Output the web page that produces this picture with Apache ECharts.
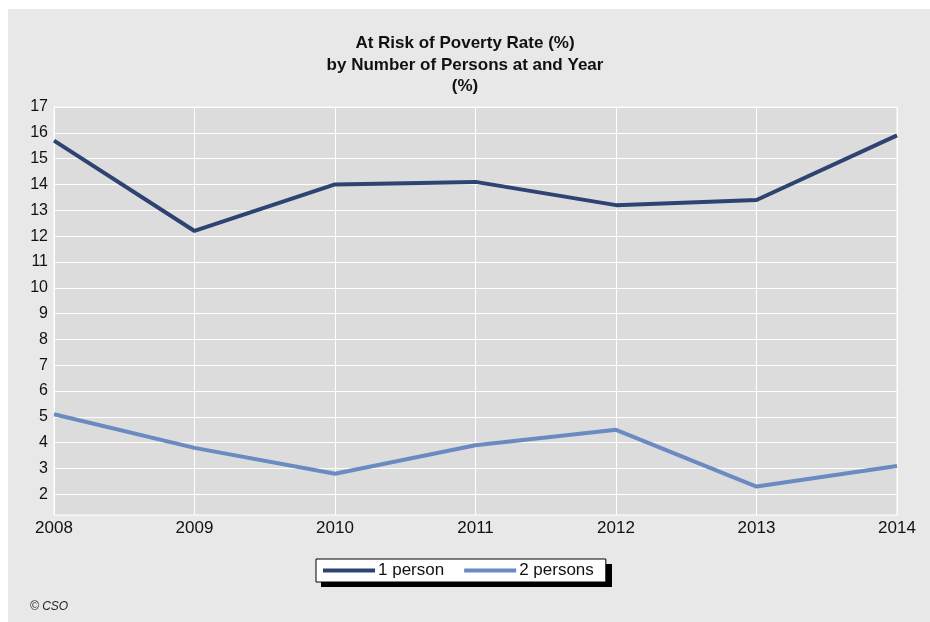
<!DOCTYPE html>
<html>
<head>
<meta charset="utf-8">
<title>At Risk of Poverty Rate</title>
<script src="https://cdn.jsdelivr.net/npm/echarts@6/dist/echarts.min.js"></script>
<style>
    html, body { margin: 0; padding: 0; background: #fff; }
    #chart { width: 930px; height: 622px; }
</style>
</head>
<body>
<div id="chart"></div>
<script>
    // data
    var years = ['2008', '2009', '2010', '2011', '2012', '2013', '2014'];
    var onePerson = [15.7, 12.2, 14.0, 14.1, 13.2, 13.4, 15.9];
    var twoPersons = [5.1, 3.8, 2.8, 3.9, 4.5, 2.3, 3.1];
    var yTicks = [2, 3, 4, 5, 6, 7, 8, 9, 10, 11, 12, 13, 14, 15, 16, 17];

    var font = 'Liberation Sans, Arial, sans-serif';
    var chart = echarts.init(document.getElementById('chart'), null, {renderer: 'canvas'});

    var option = {
        backgroundColor: '#fff',
        animation: false,
        color: ['#2e4370', '#6b8ac2'],
        graphic: [{
            type: 'rect',
            left: 8, top: 9,
            shape: {width: 922, height: 613},
            style: {fill: '#e8e8e8'},
            z: -10
        }, {
            // legend drop shadow
            type: 'rect',
            left: 321, top: 564,
            shape: {width: 291, height: 23},
            style: {fill: '#000'},
            z: -5
        }, {
            type: 'text',
            left: 30, top: 601,
            style: {text: '\u00a9 CSO', font: 'italic 12px ' + font, fill: '#222'}
        }],
        title: {
            text: 'At Risk of Poverty Rate (%)\nby Number of Persons at and Year\n(%)',
            left: 'center',
            top: 28,
            textStyle: {fontFamily: font, fontSize: 17, fontWeight: 'bold', color: '#111', lineHeight: 21.5}
        },
        legend: {
            data: ['1 person', '2 persons'],
            left: 316,
            top: 559,
            padding: [3, 12, 3, 7],
            icon: 'rect',
            itemWidth: 52,
            itemHeight: 4,
            itemGap: 20,
            textStyle: {fontFamily: font, fontSize: 17, color: '#111', padding: [0, 0, 0, -2]},
            backgroundColor: '#fff',
            borderColor: '#000',
            borderWidth: 1
        },
        grid: {
            left: 54, right: 33, top: 107, bottom: 107,
            show: true,
            backgroundColor: '#dcdcdc',
            borderColor: '#fff',
            borderWidth: 1
        },
        xAxis: {
            type: 'category',
            data: years,
            boundaryGap: false,
            axisLine: {show: false},
            axisTick: {show: false},
            axisLabel: {fontFamily: font, fontSize: 17, color: '#111', margin: 5},
            splitLine: {show: true, lineStyle: {color: '#fff', width: 1}}
        },
        yAxis: {
            type: 'value',
            min: 1.2,
            max: 17,
            axisLine: {show: false},
            axisTick: {show: false, customValues: yTicks},
            axisLabel: {fontFamily: font, fontSize: 16, color: '#111', margin: 6, customValues: yTicks},
            splitLine: {show: true, lineStyle: {color: '#fff', width: 1}}
        },
        series: [{
            name: '1 person',
            type: 'line',
            data: onePerson,
            symbol: 'none',
            lineStyle: {width: 4}
        }, {
            name: '2 persons',
            type: 'line',
            data: twoPersons,
            symbol: 'none',
            lineStyle: {width: 4}
        }]
    };

    chart.setOption(option);
</script>
</body>
</html>
